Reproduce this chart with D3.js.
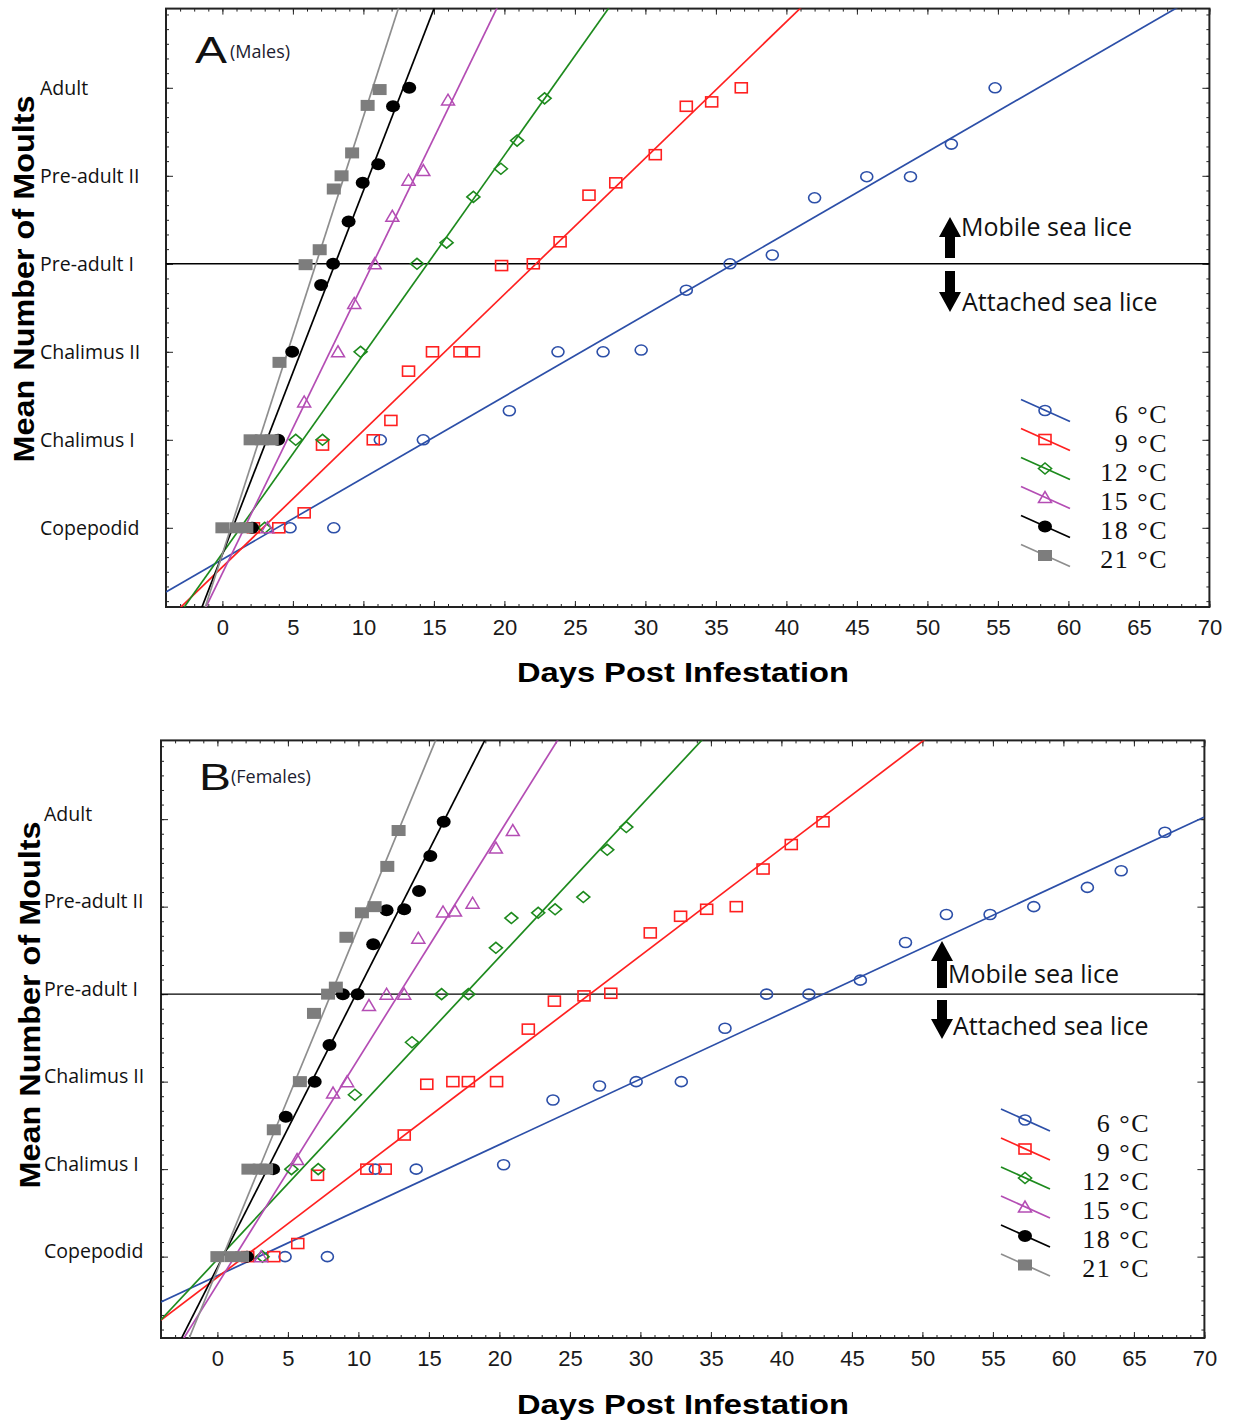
<!DOCTYPE html>
<html>
<head>
<meta charset="utf-8">
<script src="https://cdn.jsdelivr.net/npm/d3@7"></script>
<style>
  body { margin: 0; background: #fff; }
  svg { display: block; }
</style>
</head>
<body>
<div id="chart"></div>
<script>
// ---- data ----
const temps = ["6 °C", "9 °C", "12 °C", "15 °C", "18 °C", "21 °C"];
const stages = ["Copepodid", "Chalimus I", "Chalimus II", "Pre-adult I", "Pre-adult II", "Adult"];
const xTickValues = [0, 5, 10, 15, 20, 25, 30, 35, 40, 45, 50, 55, 60, 65, 70];

// males: [days post infestation, mean number of moults]
const males6 = [[4.8, 0], [7.9, 0], [11.2, 1], [14.25, 1], [20.35, 1.33], [23.8, 2], [27.0, 2], [29.7, 2.02], [32.9, 2.7], [36.0, 3.0], [39.0, 3.1], [42.0, 3.75], [45.7, 3.99], [48.8, 3.99], [51.7, 4.36], [54.8, 5.0]];
const males9 = [[2.2, 0], [4.0, 0], [5.8, 0.17], [7.1, 0.94], [10.7, 1.0], [11.95, 1.22], [13.2, 1.78], [14.9, 2.0], [16.85, 2.0], [17.8, 2.0], [19.8, 2.98], [22.05, 3.0], [23.95, 3.25], [26.0, 3.78], [27.9, 3.92], [30.7, 4.24], [32.9, 4.79], [34.7, 4.84], [36.8, 5.0]];
const males12 = [[3.0, 0], [5.2, 1.0], [7.1, 1.0], [9.8, 2.0], [13.8, 3.0], [15.9, 3.24], [17.8, 3.76], [19.75, 4.08], [20.9, 4.4], [22.85, 4.88]];
const males15 = [[3.2, 0], [5.8, 1.43], [8.2, 2.0], [9.35, 2.55], [10.8, 3.0], [12.05, 3.54], [13.2, 3.95], [14.25, 4.06], [16.0, 4.86]];
const males18 = [[2.1, 0], [3.95, 1.0], [4.95, 2.0], [7.0, 2.76], [7.85, 3.0], [8.95, 3.48], [9.95, 3.92], [11.05, 4.13], [12.1, 4.79], [13.25, 5.0]];
const males21 = [[0, 0], [1.0, 0], [1.7, 0], [2.0, 1], [2.8, 1], [3.5, 1], [4.05, 1.88], [5.9, 2.99], [6.9, 3.16], [7.9, 3.85], [8.45, 4.0], [9.2, 4.26], [10.3, 4.8], [11.15, 4.98]];

// females
const females6 = [[4.8, 0], [7.8, 0], [11.2, 1], [14.1, 1], [20.3, 1.05], [23.8, 1.79], [27.1, 1.95], [29.7, 2.0], [32.9, 2.0], [36.0, 2.61], [38.95, 3.0], [41.95, 3.0], [45.6, 3.16], [48.8, 3.59], [51.7, 3.91], [54.8, 3.91], [57.9, 4.0], [61.7, 4.22], [64.1, 4.41], [67.2, 4.85]];
const females9 = [[2.15, 0], [4.0, 0], [5.7, 0.15], [7.1, 0.93], [10.6, 1.0], [11.9, 1.0], [13.25, 1.39], [14.85, 1.97], [16.7, 2.0], [17.8, 2.0], [19.8, 2.0], [22.05, 2.6], [23.9, 2.92], [26.0, 2.98], [27.9, 3.01], [30.7, 3.7], [32.85, 3.89], [34.7, 3.97], [36.8, 4.0], [38.7, 4.43], [40.7, 4.71], [42.95, 4.97]];
const females12 = [[3.2, 0], [5.25, 1.0], [7.15, 1.0], [9.75, 1.85], [13.8, 2.45], [15.9, 3.0], [17.8, 3.0], [19.75, 3.53], [20.85, 3.87], [22.75, 3.93], [23.95, 3.97], [25.95, 4.11], [27.65, 4.65], [29.0, 4.91]];
const females15 = [[3.1, 0], [5.65, 1.11], [8.2, 1.87], [9.2, 2.0], [10.75, 2.87], [12.0, 3.0], [13.25, 3.0], [14.25, 3.64], [16.0, 3.94], [16.85, 3.95], [18.1, 4.04], [19.75, 4.67], [20.95, 4.87]];
const females18 = [[2.1, 0], [3.95, 1.0], [4.85, 1.6], [6.9, 2.0], [7.95, 2.42], [8.9, 3.0], [9.95, 3.0], [11.05, 3.57], [12.0, 3.96], [13.25, 3.97], [14.3, 4.18], [15.1, 4.58], [16.05, 4.97]];
const females21 = [[0, 0], [1.0, 0], [1.75, 0], [2.2, 1.0], [3.0, 1.0], [3.45, 1.0], [4.0, 1.45], [5.85, 2.0], [6.85, 2.78], [7.85, 3.0], [8.4, 3.08], [9.15, 3.65], [10.25, 3.93], [11.15, 4.0], [12.05, 4.46], [12.85, 4.87]];

// fitted lines (moults = intercept + slope * days), per temperature
const maleSlope = [0.0926, 0.1549, 0.2261, 0.3298, 0.4133, 0.4968];
const maleIntercept = [-0.359, -0.445, -0.289, -0.516, -0.302, -0.297];
const femaleSlope = [0.0749, 0.1225, 0.1727, 0.2578, 0.3177, 0.3909];
const femaleIntercept = [-0.218, -0.236, -0.031, -0.318, -0.124, -0.149];

// ---- styles ----
const markerColors = ["#2c4fa8", "#ff2020", "#1d8a1d", "#b44db4", "#000000", "#7d7d7d"];
const lineColors = ["#2c4fa8", "#ff2020", "#1d8a1d", "#b44db4", "#000000", "#8e8e8e"];
const shapes = ["circle", "square", "diamond", "triangle", "dot", "block"];

const svg = d3.select("#chart")
  .append("svg")
  .attr("width", 1242)
  .attr("height", 1422);

function drawMarker(g, shape, cx, cy, color) {
  if (shape === "circle") {
    g.append("ellipse").attr("cx", cx).attr("cy", cy).attr("rx", 6).attr("ry", 5)
      .attr("fill", "none").attr("stroke", color).attr("stroke-width", 1.6);
  } else if (shape === "square") {
    g.append("rect").attr("x", cx - 6).attr("y", cy - 5).attr("width", 12).attr("height", 10)
      .attr("fill", "none").attr("stroke", color).attr("stroke-width", 1.6);
  } else if (shape === "diamond") {
    g.append("path")
      .attr("d", `M${cx - 6.5},${cy}L${cx},${cy - 5.5}L${cx + 6.5},${cy}L${cx},${cy + 5.5}Z`)
      .attr("fill", "none").attr("stroke", color).attr("stroke-width", 1.6);
  } else if (shape === "triangle") {
    g.append("path")
      .attr("d", `M${cx - 6.5},${cy + 5}L${cx},${cy - 6}L${cx + 6.5},${cy + 5}Z`)
      .attr("fill", "none").attr("stroke", color).attr("stroke-width", 1.5);
  } else if (shape === "dot") {
    g.append("ellipse").attr("cx", cx).attr("cy", cy).attr("rx", 7).attr("ry", 6)
      .attr("fill", color);
  } else {
    g.append("rect").attr("x", cx - 7).attr("y", cy - 5.5).attr("width", 14).attr("height", 11)
      .attr("fill", color);
  }
}

function arrow(g, x, yTop, yBottom, up) {
  // shaft 10px wide, head 22px wide and 20px long
  const hw = 11, sw = 5, hl = 20;
  let d;
  if (up) {
    d = `M${x},${yTop}L${x + hw},${yTop + hl}L${x + sw},${yTop + hl}L${x + sw},${yBottom}` +
        `L${x - sw},${yBottom}L${x - sw},${yTop + hl}L${x - hw},${yTop + hl}Z`;
  } else {
    d = `M${x},${yBottom}L${x + hw},${yBottom - hl}L${x + sw},${yBottom - hl}L${x + sw},${yTop}` +
        `L${x - sw},${yTop}L${x - sw},${yBottom - hl}L${x - hw},${yBottom - hl}Z`;
  }
  g.append("path").attr("d", d).attr("fill", "#000");
}

function drawPanel(p) {
  const x = d3.scaleLinear().domain([-4, 70]).range([p.left, p.right]);
  const y = d3.scaleLinear().domain(p.yDomain).range([p.bottom, p.top]);
  const g = svg.append("g").attr("id", p.id);

  const clipId = "clip-" + p.id;
  g.append("clipPath").attr("id", clipId)
    .append("rect")
    .attr("x", p.left).attr("y", p.top)
    .attr("width", p.right - p.left).attr("height", p.bottom - p.top);

  // ticks (inward, all four sides)
  const minorX = d3.range(-4, 71);
  const minorY = d3.range(-5, 36).map((d) => d / 6);
  const mk = (axis, tr) => g.append("g").attr("transform", tr).call(axis)
    .call((s) => s.select(".domain").remove())
    .call((s) => s.selectAll("line").attr("stroke", "#222"));

  mk(d3.axisBottom(x).tickValues(minorX).tickSize(-3).tickFormat(""), `translate(0,${p.bottom})`);
  mk(d3.axisTop(x).tickValues(minorX).tickSize(-3).tickFormat(""), `translate(0,${p.top})`);
  mk(d3.axisTop(x).tickValues(xTickValues).tickSize(-6).tickFormat(""), `translate(0,${p.top})`);
  mk(d3.axisLeft(y).tickValues(minorY).tickSize(-3).tickFormat(""), `translate(${p.left},0)`);
  mk(d3.axisRight(y).tickValues(minorY).tickSize(-3).tickFormat(""), `translate(${p.right},0)`);
  mk(d3.axisLeft(y).tickValues([0, 1, 2, 3, 4, 5]).tickSize(-7).tickFormat(""), `translate(${p.left},0)`);
  mk(d3.axisRight(y).tickValues([0, 1, 2, 3, 4, 5]).tickSize(-7).tickFormat(""), `translate(${p.right},0)`);

  const xAxis = mk(
    d3.axisBottom(x).tickValues(xTickValues).tickSize(-6).tickPadding(12),
    `translate(0,${p.bottom})`
  );
  xAxis.selectAll("text")
    .style("font-family", "'Liberation Sans', Arial, sans-serif")
    .style("font-size", "22px")
    .attr("fill", "#1a1a1a");

  // frame
  g.append("rect")
    .attr("x", p.left).attr("y", p.top)
    .attr("width", p.right - p.left).attr("height", p.bottom - p.top)
    .attr("fill", "none").attr("stroke", "#222").attr("stroke-width", 2);

  // stage labels
  g.selectAll(".stage")
    .data(stages)
    .enter()
    .append("text")
    .attr("class", "stage")
    .attr("x", p.labelX)
    .attr("y", (d, i) => y(i) + p.labelDy)
    .attr("dy", "0.35em")
    .style("font-family", "'Open Sans', sans-serif")
    .style("font-size", "19.5px")
    .attr("fill", "#111")
    .text((d) => d);

  // mobile / attached divider
  g.append("line")
    .attr("x1", p.left).attr("x2", p.right)
    .attr("y1", y(3)).attr("y2", y(3))
    .attr("stroke", "#000").attr("stroke-width", 1.4);

  // fitted lines
  const lineGen = d3.line().x((d) => x(d[0])).y((d) => y(d[1]));
  const lines = g.append("g").attr("clip-path", `url(#${clipId})`);
  p.slope.forEach((b, i) => {
    const a = p.intercept[i];
    lines.append("path")
      .datum([[-4, a - 4 * b], [70, a + 70 * b]])
      .attr("d", lineGen)
      .attr("fill", "none")
      .attr("stroke", lineColors[i])
      .attr("stroke-width", 1.7);
  });

  // points
  const pts = g.append("g");
  p.series.forEach((s, i) => {
    s.forEach((d) => drawMarker(pts, shapes[i], x(d[0]), y(d[1]), markerColors[i]));
  });

  // arrows and notes
  arrow(g, p.arrowX, p.upArrow[0], p.upArrow[1], true);
  arrow(g, p.arrowX, p.downArrow[0], p.downArrow[1], false);
  g.append("text")
    .attr("x", p.mobile[0]).attr("y", p.mobile[1]).attr("dy", "0.35em")
    .style("font-family", "'Open Sans', sans-serif").style("font-size", "25px")
    .attr("fill", "#111")
    .text("Mobile sea lice");
  g.append("text")
    .attr("x", p.attached[0]).attr("y", p.attached[1]).attr("dy", "0.35em")
    .style("font-family", "'Open Sans', sans-serif").style("font-size", "25px")
    .attr("fill", "#111")
    .text("Attached sea lice");

  // legend
  const leg = g.append("g");
  temps.forEach((t, i) => {
    const my = p.legendY + i * 29;
    leg.append("line")
      .attr("x1", p.legendX - 24).attr("y1", my - 11)
      .attr("x2", p.legendX + 25).attr("y2", my + 11)
      .attr("stroke", lineColors[i]).attr("stroke-width", 1.7);
    drawMarker(leg, shapes[i], p.legendX, my, markerColors[i]);
    leg.append("text")
      .attr("x", p.legendTextX).attr("y", my + 12)
      .attr("text-anchor", "end")
      .style("font-family", "'Liberation Serif', 'Times New Roman', serif")
      .style("font-size", "26px")
      .style("letter-spacing", "1.5px")
      .attr("fill", "#111")
      .text(t);
  });

  // panel letter
  g.append("text")
    .attr("x", p.letter[0]).attr("y", p.letter[1])
    .attr("textLength", 32).attr("lengthAdjust", "spacingAndGlyphs")
    .style("font-family", "'Liberation Sans', Arial, sans-serif")
    .style("font-size", "36px")
    .attr("fill", "#111")
    .text(p.letterText);
  g.append("text")
    .attr("x", p.sex[0]).attr("y", p.sex[1])
    .style("font-family", "'Open Sans', sans-serif")
    .style("font-size", "18px")
    .attr("fill", "#1c1c30")
    .text(p.sexText);

  // axis titles
  g.append("text")
    .attr("x", 683).attr("y", p.xTitleY)
    .attr("text-anchor", "middle")
    .attr("textLength", 332).attr("lengthAdjust", "spacingAndGlyphs")
    .style("font-family", "'Liberation Sans', Arial, sans-serif")
    .style("font-size", "28px").style("font-weight", "bold")
    .attr("fill", "#000")
    .text("Days Post Infestation");
  g.append("text")
    .attr("transform", `translate(${p.yTitle[0]},${p.yTitle[1]}) rotate(-90)`)
    .attr("text-anchor", "middle")
    .attr("textLength", 367).attr("lengthAdjust", "spacingAndGlyphs")
    .style("font-family", "'Liberation Sans', Arial, sans-serif")
    .style("font-size", "29px").style("font-weight", "bold")
    .attr("fill", "#000")
    .text("Mean Number of Moults");
}

drawPanel({
  id: "males",
  left: 166, right: 1209.4, top: 8.6, bottom: 607,
  yDomain: [-0.9, 5.9],
  labelX: 40, labelDy: 0,
  series: [males6, males9, males12, males15, males18, males21],
  slope: maleSlope, intercept: maleIntercept,
  arrowX: 950, upArrow: [217, 258], downArrow: [271, 312],
  mobile: [961, 227], attached: [962, 302],
  legendX: 1045, legendY: 410.5, legendTextX: 1168,
  letter: [195, 63], letterText: "A",
  sex: [230, 58], sexText: "(Males)",
  xTitleY: 682, yTitle: [34, 279]
});

drawPanel({
  id: "females",
  left: 161, right: 1204.4, top: 740.4, bottom: 1338,
  yDomain: [-0.93, 5.9],
  labelX: 44, labelDy: -5,
  series: [females6, females9, females12, females15, females18, females21],
  slope: femaleSlope, intercept: femaleIntercept,
  arrowX: 942, upArrow: [941, 988], downArrow: [1000, 1039],
  mobile: [948, 974], attached: [953, 1026],
  legendX: 1025, legendY: 1120, legendTextX: 1150,
  letter: [199, 790], letterText: "B",
  sex: [231, 783], sexText: "(Females)",
  xTitleY: 1414, yTitle: [40, 1005]
});
</script>
</body>
</html>
